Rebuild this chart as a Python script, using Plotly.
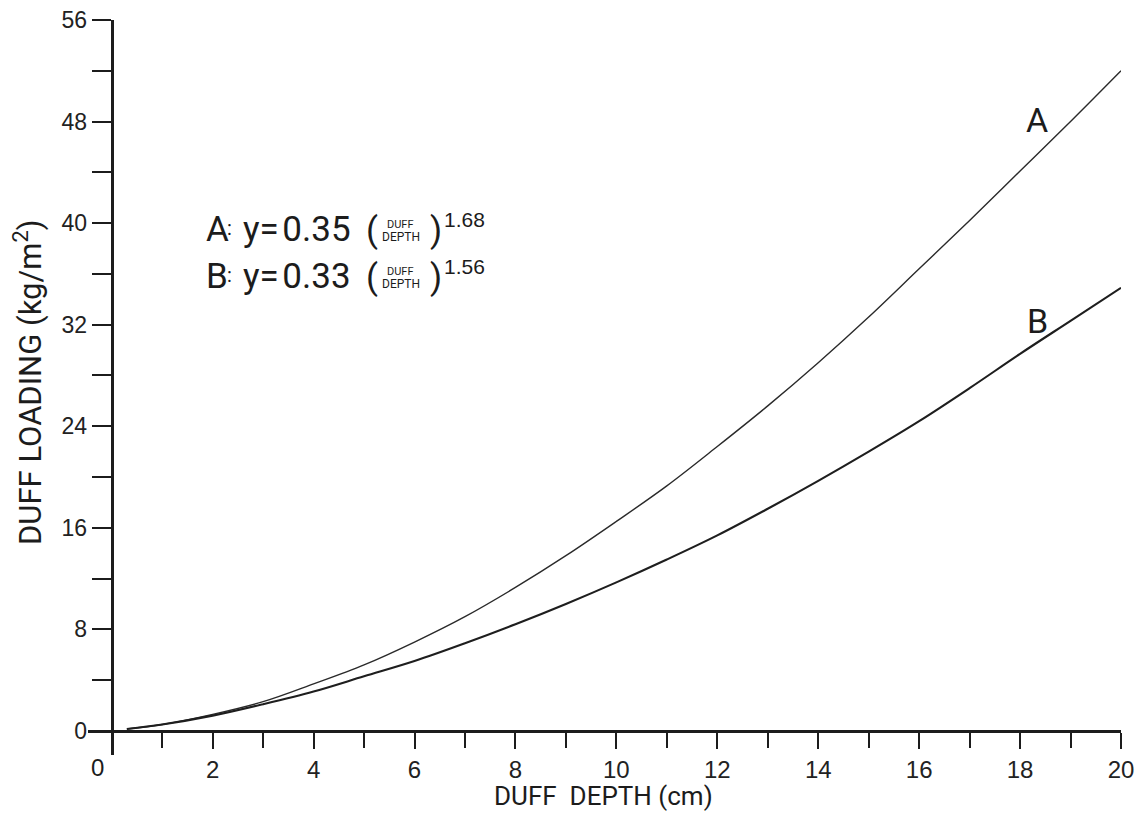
import plotly.graph_objects as go

# ---- data ----
duff_depth = [0.3, 1, 2, 3, 4, 5, 6, 7, 8, 9, 10, 11, 12, 13, 14, 15, 16, 17, 18, 19, 20]
loading_A = [0.15, 0.5, 1.3, 2.3, 3.7, 5.2, 7.0, 9.0, 11.3, 13.8, 16.5, 19.3, 22.4, 25.6, 29.0, 32.6, 36.4, 40.2, 44.1, 48.0, 52.0]
loading_B = [0.15, 0.5, 1.2, 2.1, 3.1, 4.3, 5.5, 6.9, 8.4, 10.0, 11.7, 13.5, 15.4, 17.5, 19.7, 22.0, 24.4, 27.0, 29.7, 32.3, 34.9]
x_ticks = [2, 4, 6, 8, 10, 12, 14, 16, 18, 20]
y_ticks = [0, 8, 16, 24, 32, 40, 48, 56]
x_range = [-0.47, 20.0]
y_range = [-1.9, 56.0]

# page body has an 8px margin; the figure is laid out in window pixels minus that offset
OFF = 8
W, H = 1145 - OFF, 833 - OFF
ML, MT = 88 - OFF, 20 - OFF
MR, MB = W - (1121 - OFF), H - (755 - OFF)
PW, PH = W - ML - MR, H - MT - MB

INK = "#1c1c1c"
NARROW = "Roboto, Lato, sans-serif"
REG = "Liberation Sans, Arial, Helvetica, sans-serif"


def px(x):
    return (x - OFF - ML) / PW


def py(y):
    return (H - MB - (y - OFF)) / PH


fig = go.Figure()
fig.add_trace(go.Scatter(x=duff_depth, y=loading_A, mode="lines",
                         line=dict(color="#2a2a2a", width=1.4, shape="spline"),
                         showlegend=False, hoverinfo="skip"))
fig.add_trace(go.Scatter(x=duff_depth, y=loading_B, mode="lines",
                         line=dict(color="#1e1e1e", width=2.1, shape="spline"),
                         showlegend=False, hoverinfo="skip"))

x_pos = (0 - y_range[0]) / (y_range[1] - y_range[0])
y_pos = (0 - x_range[0]) / (x_range[1] - x_range[0])

fig.update_layout(
    width=W, height=H,
    margin=dict(l=ML, r=MR, t=MT, b=MB, pad=0, autoexpand=False),
    paper_bgcolor="white", plot_bgcolor="white",
    xaxis=dict(range=x_range, domain=[0, 1], anchor="free", position=x_pos, automargin=False,
               showgrid=False, zeroline=False, showline=True, linecolor=INK, linewidth=3,
               ticks="outside", ticklen=16, tickwidth=2, tickcolor=INK,
               tickmode="array", tickvals=x_ticks, ticklabeloverflow="allow",
               tickfont=dict(family=REG, size=24, color="#222"),
               minor=dict(dtick=1, tick0=0, ticks="outside", ticklen=15, tickwidth=2, tickcolor=INK, showgrid=False)),
    yaxis=dict(range=y_range, domain=[0, 1], anchor="free", position=y_pos, automargin=False,
               showgrid=False, zeroline=False, showline=True, linecolor=INK, linewidth=3,
               ticks="outside", ticklen=19, tickwidth=2, tickcolor=INK,
               tickmode="array", tickvals=y_ticks, ticklabeloverflow="allow",
               tickfont=dict(family=REG, size=23, color="#222"),
               minor=dict(dtick=4, tick0=0, ticks="outside", ticklen=19, tickwidth=2, tickcolor=INK, showgrid=False)),
)

ann = []


def add(text, x, y, size, family=NARROW, xanchor="left", angle=0):
    ann.append(dict(x=px(x), y=py(y), xref="paper", yref="paper", text=text, showarrow=False,
                    xanchor=xanchor, yanchor="middle", textangle=angle,
                    font=dict(family=family, size=size, color=INK)))


# x "0" label
add("0", 97, 767, 24, family=REG, xanchor="center")
# axis titles
add("DUFF&nbsp;&nbsp;DEPTH (cm)", 603, 796, 26, xanchor="center")
add("DUFF LOADING (kg/m<sup>2</sup>)", 28, 383, 31, xanchor="center", angle=-90)
# curve labels
add("A", 1037, 120, 34, xanchor="center")
add("B", 1037, 321, 34, xanchor="center")

# equations
for lab, coef, expo, yc in [("A", "0.35", "1.68", 229), ("B", "0.33", "1.56", 276)]:
    add(lab, 204, yc, 35)
    add(":", 225, yc - 1, 20)
    add(f"y=&#8202;{coef}", 241, yc, 35)
    add("(", 364, yc + 1, 35)
    add("DUFF", 400, yc - 5, 11, xanchor="center")
    add("DEPTH", 401, yc + 8, 12, xanchor="center")
    add(")", 428, yc + 1, 35)
    add(expo, 442, yc - 10, 21, family=REG)

fig.update_layout(annotations=ann)
fig.write_html("out.html")
